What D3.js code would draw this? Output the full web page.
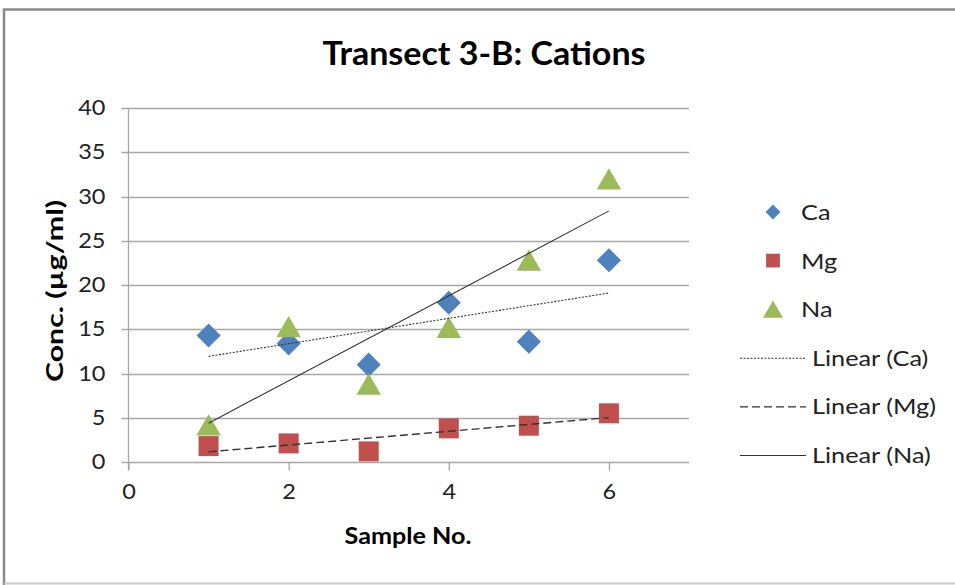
<!DOCTYPE html>
<html>
<head>
<meta charset="utf-8">
<script src="https://cdn.jsdelivr.net/npm/d3@7"></script>
<style>
  body { margin: 0; background: #fff; }
  text { font-family: Lato, "Open Sans", sans-serif; }
</style>
</head>
<body>
<svg id="chart" width="955" height="585"></svg>
<script>
// sample numbers and measured concentrations (ug/ml)
var samples = [1, 2, 3, 4, 5, 6];
var ca = [14.3, 13.4, 11.0, 18.0, 13.6, 22.8];
var mg = [1.8, 2.1, 1.2, 3.8, 4.1, 5.5];
var na = [4.2, 15.3, 8.8, 15.2, 22.8, 32.0];
var xTicks = [0, 2, 4, 6];
var yTicks = [0, 5, 10, 15, 20, 25, 30, 35, 40];

var series = [
  {name: "Ca", values: ca, color: "#4F81BD", shape: d3.symbolSquare, rot: 45, size: 290, lsize: 110, dash: "2,1.5"},
  {name: "Mg", values: mg, color: "#C0504D", shape: d3.symbolSquare, rot: 0, size: 400, lsize: 190, dash: "8,4"},
  {name: "Na", values: na, color: "#9BBB59", shape: d3.symbolTriangle, rot: 0, size: 260, lsize: 170, dash: null}
];

// d3 centres triangles on the centroid, excel on the box: nudge down
function nudge(s, size) {
  if (s.shape !== d3.symbolTriangle) return 0;
  var side = Math.sqrt(size * 4 / Math.sqrt(3));
  return side * Math.sqrt(3) / 2 / 6;
}

// widen text a bit, the original font runs wider than Lato
function stretch(sel, k) {
  sel.each(function() {
    var w = this.getComputedTextLength();
    d3.select(this).attr("textLength", w * k).attr("lengthAdjust", "spacingAndGlyphs");
  });
}

var svg = d3.select("#chart");

// outer frame
svg.append("path")
  .attr("d", "M4,585 V9.5 H955")
  .attr("fill", "none").attr("stroke", "#8a8a8a").attr("stroke-width", 2.5);
svg.append("line")
  .attr("x1", 4).attr("x2", 955).attr("y1", 583.5).attr("y2", 583.5)
  .attr("stroke", "#c8c8c8").attr("stroke-width", 2);

var margin = {left: 128.5, top: 108, right: 689, bottom: 462};
var x = d3.scaleLinear().domain([0, 7]).range([margin.left, margin.right]);
var y = d3.scaleLinear().domain([0, 40]).range([margin.bottom, margin.top]);

// gridlines
svg.append("g")
  .selectAll("line")
  .data(yTicks)
  .enter().append("line")
    .attr("x1", margin.left - 7).attr("x2", margin.right)
    .attr("y1", function(d) { return Math.round(y(d)) + 0.5; })
    .attr("y2", function(d) { return Math.round(y(d)) + 0.5; })
    .attr("stroke", "#a6a6a6").attr("stroke-width", 1.3);

// y axis
var yAxis = svg.append("g")
  .attr("transform", "translate(" + margin.left + ",0)")
  .call(d3.axisLeft(y).tickValues(yTicks).tickSize(0).tickPadding(23));
yAxis.select(".domain").attr("stroke", "#a6a6a6").attr("stroke-width", 1.3)
  .attr("d", "M0," + margin.top + "V" + (margin.bottom + 8));
yAxis.selectAll("text").attr("font-size", 21).attr("fill", "#222").call(stretch, 1.12);

// x axis
var xAxis = svg.append("g")
  .attr("transform", "translate(0," + (margin.bottom + 0.5) + ")")
  .call(d3.axisBottom(x).tickValues(xTicks).tickFormat(d3.format("d")).tickSize(8).tickPadding(14));
xAxis.select(".domain").remove();
xAxis.selectAll("line").attr("stroke", "#a6a6a6").attr("stroke-width", 1.3);
xAxis.selectAll("text").attr("font-size", 21).attr("fill", "#222").call(stretch, 1.12);

// least squares trend for each series
function fit(vals) {
  var mx = d3.mean(samples), my = d3.mean(vals);
  var num = d3.sum(samples, function(s, i) { return (s - mx) * (vals[i] - my); });
  var den = d3.sum(samples, function(s) { return (s - mx) * (s - mx); });
  var b = num / den;
  return function(s) { return my + b * (s - mx); };
}

var line = d3.line().x(function(d) { return x(d[0]); }).y(function(d) { return y(d[1]); });

// markers
series.forEach(function(s) {
  var dy = nudge(s, s.size);
  svg.append("g").selectAll("path")
    .data(samples.map(function(v, i) { return [v, s.values[i]]; }))
    .enter().append("path")
      .attr("transform", function(d) {
        return "translate(" + x(d[0]) + "," + (y(d[1]) + dy) + ") rotate(" + s.rot + ")";
      })
      .attr("d", d3.symbol().type(s.shape).size(s.size))
      .attr("fill", s.color);
});

// trend lines drawn on top
series.forEach(function(s) {
  var f = fit(s.values);
  var ends = [samples[0], samples[samples.length - 1]];
  svg.append("path")
    .attr("d", line(ends.map(function(v) { return [v, f(v)]; })))
    .attr("fill", "none").attr("stroke", "#333")
    .attr("stroke-width", s.name === "Mg" ? 1.4 : 1.1)
    .attr("stroke-dasharray", s.dash);
});

// title and axis labels
svg.append("text")
  .attr("x", 484).attr("y", 65)
  .attr("text-anchor", "middle").attr("font-size", 33).attr("font-weight", "bold")
  .attr("textLength", 323).attr("lengthAdjust", "spacingAndGlyphs")
  .text("Transect 3-B: Cations");
svg.append("text")
  .attr("x", 408).attr("y", 544)
  .attr("text-anchor", "middle").attr("font-size", 22).attr("font-weight", "bold")
  .attr("textLength", 127).attr("lengthAdjust", "spacingAndGlyphs")
  .text("Sample No.");
svg.append("text")
  .attr("transform", "translate(63,291) rotate(-90)")
  .attr("text-anchor", "middle").attr("font-size", 22).attr("font-weight", "bold")
  .attr("textLength", 182).attr("lengthAdjust", "spacingAndGlyphs")
  .text("Conc. (\u00b5g/ml)");

// legend
var legendRows = series.map(function(s) { return {label: s.name, s: s, kind: "marker"}; })
  .concat(series.map(function(s) { return {label: "Linear (" + s.name + ")", s: s, kind: "line"}; }));

var legend = svg.append("g")
  .selectAll("g")
  .data(legendRows)
  .enter().append("g")
    .attr("transform", function(d, i) { return "translate(0," + (212 + i * 48.6) + ")"; });

legend.each(function(d) {
  var g = d3.select(this);
  if (d.kind === "marker") {
    g.append("path")
      .attr("transform", "translate(773," + nudge(d.s, d.s.lsize) + ") rotate(" + d.s.rot + ")")
      .attr("d", d3.symbol().type(d.s.shape).size(d.s.lsize))
      .attr("fill", d.s.color);
  } else {
    g.append("line")
      .attr("x1", 740).attr("x2", 806).attr("y1", 0.5).attr("y2", 0.5)
      .attr("stroke", "#333").attr("stroke-width", d.s.name === "Mg" ? 1.4 : 1.1)
      .attr("stroke-dasharray", d.s.dash);
  }
  g.append("text")
    .attr("x", d.kind === "marker" ? 801 : 812).attr("y", 8)
    .attr("font-size", 22).attr("fill", "#222")
    .text(d.label)
    .call(stretch, 1.15);
});
</script>
</body>
</html>
